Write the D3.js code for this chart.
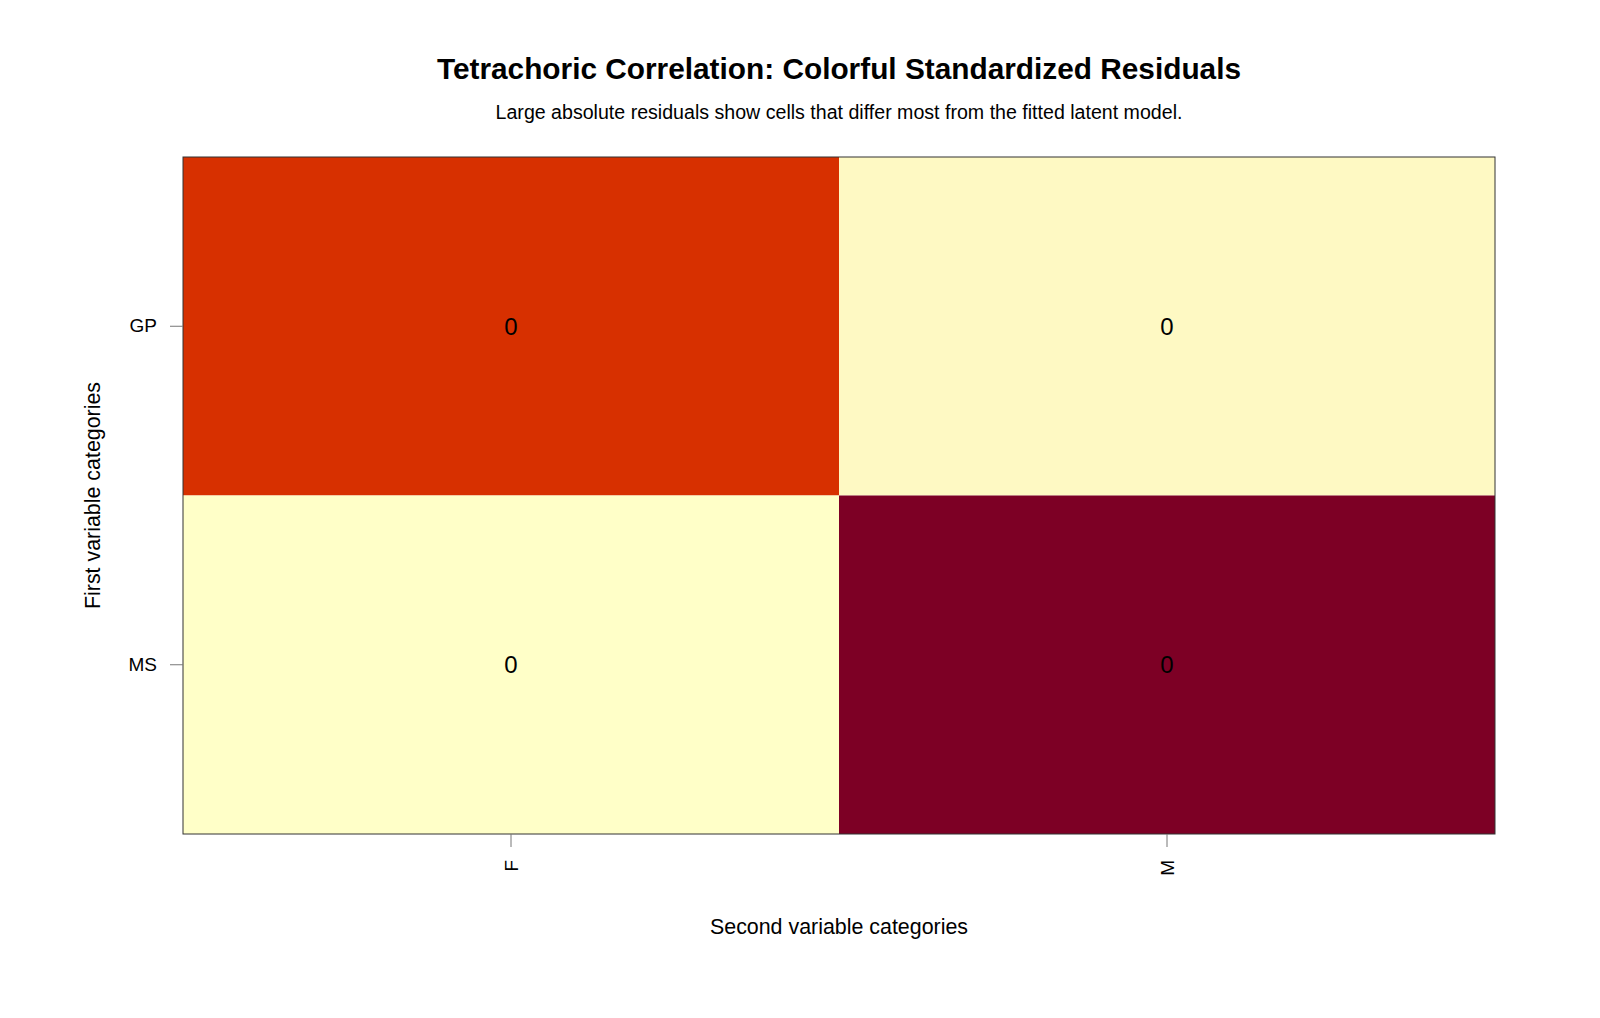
<!DOCTYPE html>
<html>
<head>
<meta charset="utf-8">
<script src="https://cdn.jsdelivr.net/npm/d3@7"></script>
<style>
  body { margin: 0; background: #fff; }
  text { font-family: "Liberation Sans", Arial, sans-serif; fill: #000; }
</style>
</head>
<body>
<div id="chart"></div>
<script>
// categories of each variable
const rowCats = ["GP", "MS"];
const colCats = ["F", "M"];
// standardized residuals, read per row (GP, MS) -- shown rounded in the cells
const residGP = [0.28, -0.44];
const residMS = [-0.46, 0.46];

const width = 1600, height = 1018;
const margin = {top: 157, right: 105, bottom: 184, left: 183};

const svg = d3.select('#chart')
    .append('svg')
    .attr('width', width)
    .attr('height', height);

const cells = [];
rowCats.forEach((r, i) => {
    const vals = i === 0 ? residGP : residMS;
    colCats.forEach((c, j) => cells.push({row: r, col: c, value: vals[j]}));
});

const x = d3.scaleBand()
    .domain(colCats)
    .range([margin.left, width - margin.right]);

const y = d3.scaleBand()
    .domain(rowCats)
    .range([margin.top, height - margin.bottom]);

const ext = d3.extent(cells, d => d.value);
const color = d3.scaleLinear()
    .domain([ext[0], 0.28, ext[1]])
    .range(["#FFFFC8", "#D73000", "#7D0025"])
    .clamp(true);

const fmt = d3.format(".0f");

// cells
svg.append('g')
    .selectAll('rect')
    .data(cells)
    .join('rect')
    .attr('x', d => x(d.col))
    .attr('y', d => y(d.row))
    .attr('width', x.bandwidth())
    .attr('height', y.bandwidth())
    .attr('fill', d => color(d.value));

svg.append('g')
    .selectAll('text')
    .data(cells)
    .join('text')
    .attr('x', d => x(d.col) + x.bandwidth() / 2)
    .attr('y', d => y(d.row) + y.bandwidth() / 2)
    .attr('text-anchor', 'middle')
    .attr('dominant-baseline', 'central')
    .style('font-size', '24px')
    .text(d => fmt(Math.abs(d.value) < 0.5 ? 0 : d.value));

// frame
svg.append('rect')
    .attr('x', margin.left)
    .attr('y', margin.top)
    .attr('width', width - margin.left - margin.right)
    .attr('height', height - margin.top - margin.bottom)
    .attr('fill', 'none')
    .attr('stroke', '#333')
    .attr('stroke-width', 1);

// x axis
const xAxis = svg.append('g')
    .attr('transform', `translate(0,${height - margin.bottom})`)
    .call(d3.axisBottom(x).tickSize(13).tickPadding(13));
xAxis.select('.domain').remove();
xAxis.selectAll('.tick line').attr('stroke', '#777');
xAxis.selectAll('.tick text')
    .style('font-size', '19px')
    .attr('transform', 'rotate(-90)')
    .attr('x', -26)
    .attr('y', 0)
    .attr('dy', '0.35em')
    .attr('text-anchor', 'end');

// y axis
const yAxis = svg.append('g')
    .attr('transform', `translate(${margin.left},0)`)
    .call(d3.axisLeft(y).tickSize(13).tickPadding(13));
yAxis.select('.domain').remove();
yAxis.selectAll('.tick line').attr('stroke', '#777');
yAxis.selectAll('.tick text').style('font-size', '19px');

// titles
const cx = margin.left + (width - margin.left - margin.right) / 2;
svg.append('text')
    .attr('x', cx)
    .attr('y', 79)
    .attr('text-anchor', 'middle')
    .style('font-size', '29.8px')
    .style('font-weight', 'bold')
    .text('Tetrachoric Correlation: Colorful Standardized Residuals');

svg.append('text')
    .attr('x', cx)
    .attr('y', 119)
    .attr('text-anchor', 'middle')
    .style('font-size', '19.6px')
    .text('Large absolute residuals show cells that differ most from the fitted latent model.');

svg.append('text')
    .attr('x', cx)
    .attr('y', 934)
    .attr('text-anchor', 'middle')
    .style('font-size', '21.4px')
    .text('Second variable categories');

svg.append('text')
    .attr('transform', `translate(100,${margin.top + (height - margin.top - margin.bottom) / 2}) rotate(-90)`)
    .attr('text-anchor', 'middle')
    .style('font-size', '21.4px')
    .text('First variable categories');
</script>
</body>
</html>
